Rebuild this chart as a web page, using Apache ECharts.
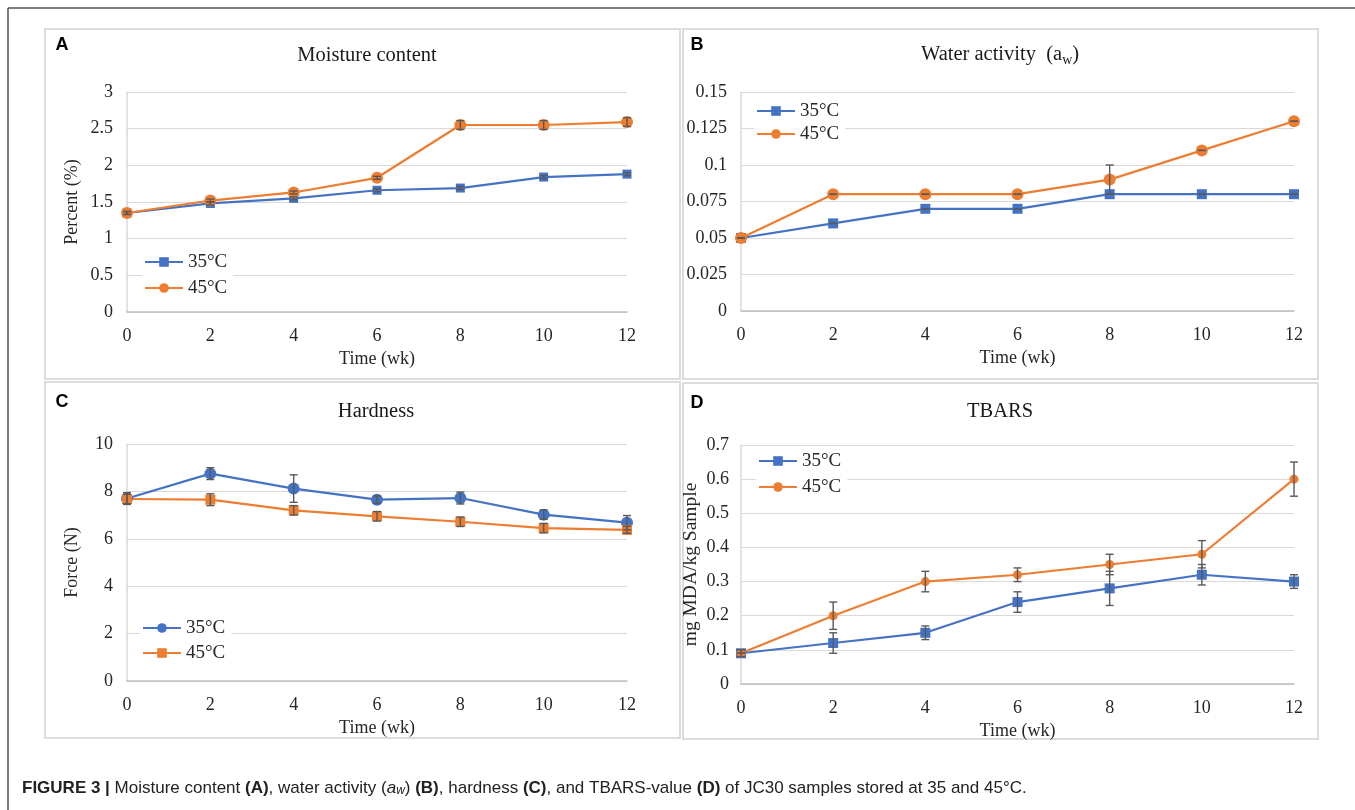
<!DOCTYPE html>
<html>
<head>
<meta charset="utf-8">
<script src="https://cdn.jsdelivr.net/npm/echarts@6/dist/echarts.min.js"></script>
<style>
  html, body { margin: 0; padding: 0; background: #fff; }
  #main { width: 1355px; height: 810px; }
</style>
</head>
<body>
<div id="main"></div>
<script>
// data
const weeks = [0, 2, 4, 6, 8, 10, 12];

const moisture35 = [1.35, 1.48, 1.55, 1.66, 1.69, 1.84, 1.88];
const moisture45 = [1.35, 1.52, 1.63, 1.83, 2.55, 2.55, 2.59];
const moisture35Err = [0.02, 0.02, 0.02, 0.02, 0.02, 0.02, 0.02];
const moisture45Err = [0.02, 0.02, 0.02, 0.02, 0.06, 0.06, 0.06];

const water35 = [0.05, 0.06, 0.07, 0.07, 0.08, 0.08, 0.08];
const water45 = [0.05, 0.08, 0.08, 0.08, 0.09, 0.11, 0.13];
const water35Err = [0, 0, 0, 0, 0, 0, 0];
const water45Err = [0, 0, 0, 0, 0.01, 0, 0];

const hard35 = [7.7, 8.75, 8.12, 7.65, 7.72, 7.02, 6.68];
const hard45 = [7.68, 7.65, 7.2, 6.95, 6.72, 6.45, 6.38];
const hard35Err = [0.25, 0.25, 0.58, 0.15, 0.25, 0.2, 0.3];
const hard45Err = [0.2, 0.25, 0.2, 0.2, 0.2, 0.2, 0.15];

const tbars35 = [0.09, 0.12, 0.15, 0.24, 0.28, 0.32, 0.30];
const tbars45 = [0.09, 0.20, 0.30, 0.32, 0.35, 0.38, 0.60];
const tbars35Err = [0.01, 0.03, 0.02, 0.03, 0.05, 0.03, 0.02];
const tbars45Err = [0, 0.04, 0.03, 0.02, 0.03, 0.04, 0.05];

// [min, max, interval] of each y axis
const yTicks = { A: [0, 3, 0.5], B: [0, 0.15, 0.025], C: [0, 10, 2], D: [0, 0.7, 0.1] };

const BLUE = '#4472c4';
const ORANGE = '#ed7d31';
const SERIF = '"Liberation Serif", "Times New Roman", serif';
const SANS = '"Liberation Sans", Arial, sans-serif';

const myChart = echarts.init(document.getElementById('main'));

const grids = [
  { left: 127, top: 92, width: 500, height: 220 },
  { left: 741, top: 92, width: 553, height: 219 },
  { left: 127, top: 444, width: 500, height: 237 },
  { left: 741, top: 445, width: 553, height: 239 }
];

function xAxis (i) {
  return {
    type: 'value', gridIndex: i, min: 0, max: 12, interval: 2,
    name: 'Time (wk)', nameLocation: 'middle', nameGap: 38,
    nameTextStyle: { fontFamily: SERIF, fontSize: 18, color: '#262626' },
    axisLine: { lineStyle: { color: '#bfbfbf', width: 1.5 } },
    axisTick: { show: false },
    splitLine: { show: false },
    axisLabel: { fontFamily: SERIF, fontSize: 18, color: '#262626', margin: 15 }
  };
}

function yAxis (i, ticks, name, gap, size, margin) {
  return {
    type: 'value', gridIndex: i, min: ticks[0], max: ticks[1], interval: ticks[2],
    name: name, nameLocation: 'middle', nameGap: gap, nameMoveOverlap: false,
    nameTextStyle: { fontFamily: SERIF, fontSize: size, color: '#262626' },
    axisLine: { show: true, lineStyle: { color: '#d9d9d9', width: 1.5 } },
    axisTick: { show: false },
    splitLine: { lineStyle: { color: '#d9d9d9', width: 1 } },
    axisLabel: { fontFamily: SERIF, fontSize: 18, color: '#262626', margin: margin }
  };
}

function lineSeries (name, i, values, color, symbol, size) {
  return {
    name: name, type: 'line', xAxisIndex: i, yAxisIndex: i, z: 3,
    data: weeks.map((w, k) => [w, values[k]]),
    symbol: symbol, symbolSize: size,
    itemStyle: { color: color },
    lineStyle: { color: color, width: 2.2 }
  };
}

// vertical error bars with small caps
function errSeries (i, values, errs) {
  return {
    type: 'custom', xAxisIndex: i, yAxisIndex: i, z: 5, silent: true,
    encode: { x: 0, y: [1, 2] },
    data: weeks.map((w, k) => [w, values[k] - errs[k], values[k] + errs[k]]),
    renderItem (params, api) {
      const x = api.value(0);
      const lo = api.coord([x, api.value(1)]);
      const hi = api.coord([x, api.value(2)]);
      const st = { stroke: '#595959', lineWidth: 1.4 };
      const h = 4;
      return {
        type: 'group',
        children: [
          { type: 'line', shape: { x1: lo[0], y1: lo[1], x2: hi[0], y2: hi[1] }, style: st },
          { type: 'line', shape: { x1: hi[0] - h, y1: hi[1], x2: hi[0] + h, y2: hi[1] }, style: st },
          { type: 'line', shape: { x1: lo[0] - h, y1: lo[1], x2: lo[0] + h, y2: lo[1] }, style: st }
        ]
      };
    }
  };
}

function legend (names, left, top, gap) {
  return {
    data: names, left: left, top: top, orient: 'vertical',
    itemWidth: 38, itemHeight: 12, itemGap: gap, padding: [2, 6, 2, 2],
    backgroundColor: '#fff', selectedMode: false,
    formatter: (n) => n.slice(1) + '°C',
    textStyle: { fontFamily: SERIF, fontSize: 19, color: '#262626', lineHeight: 20 }
  };
}

function label (text, x, y) {
  return { type: 'text', x: x, y: y, style: { text: text, font: 'bold 18px ' + SANS, fill: '#000', align: 'center', verticalAlign: 'middle' } };
}

function heading (text, x, y, rich) {
  return { type: 'text', x: x, y: y, style: { text: text, rich: rich, font: '20.5px ' + SERIF, fill: '#1a1a1a', align: 'center', verticalAlign: 'middle' } };
}

function box (x, y, w, h) {
  return { type: 'rect', shape: { x: x, y: y, width: w, height: h }, style: { fill: 'none', stroke: '#dcdcdc', lineWidth: 2 } };
}

myChart.setOption({
  animation: false,
  grid: grids,
  xAxis: [xAxis(0), xAxis(1), xAxis(2), xAxis(3)],
  yAxis: [
    yAxis(0, yTicks.A, 'Percent (%)', 46, 18, 14),
    yAxis(1, yTicks.B, '', 40, 18, 14),
    yAxis(2, yTicks.C, 'Force (N)', 46, 18, 14),
    yAxis(3, yTicks.D, 'mg MDA/kg Sample', 40, 19.5, 12)
  ],
  legend: [
    legend(['A35', 'A45'], 142, 250, 6),
    legend(['B35', 'B45'], 754, 99, 3),
    legend(['C35', 'C45'], 140, 616, 5),
    legend(['D35', 'D45'], 756, 449, 6)
  ],
  series: [
    lineSeries('A35', 0, moisture35, BLUE, 'rect', 9),
    lineSeries('A45', 0, moisture45, ORANGE, 'circle', 12),
    errSeries(0, moisture35, moisture35Err),
    errSeries(0, moisture45, moisture45Err),
    lineSeries('B35', 1, water35, BLUE, 'rect', 10),
    lineSeries('B45', 1, water45, ORANGE, 'circle', 12),
    errSeries(1, water35, water35Err),
    errSeries(1, water45, water45Err),
    lineSeries('C35', 2, hard35, BLUE, 'circle', 12),
    lineSeries('C45', 2, hard45, ORANGE, 'rect', 10),
    errSeries(2, hard35, hard35Err),
    errSeries(2, hard45, hard45Err),
    lineSeries('D35', 3, tbars35, BLUE, 'rect', 10),
    lineSeries('D45', 3, tbars45, ORANGE, 'circle', 9),
    errSeries(3, tbars35, tbars35Err),
    errSeries(3, tbars45, tbars45Err)
  ],
  graphic: [
    { type: 'line', shape: { x1: 8, y1: 8, x2: 1355, y2: 8 }, style: { stroke: '#555', lineWidth: 1.5 } },
    { type: 'line', shape: { x1: 8, y1: 8, x2: 8, y2: 810 }, style: { stroke: '#555', lineWidth: 1.5 } },
    box(45, 29, 635, 350),
    box(683, 29, 635, 350),
    box(45, 382, 635, 356),
    box(683, 383, 635, 356),
    label('A', 62, 45),
    label('B', 697, 45),
    label('C', 62, 402),
    label('D', 697, 403),
    heading('Moisture content', 367, 56),
    heading('{t|Water activity  (a}{s|w}{t|)}', 1000, 55, {
      t: { fontFamily: SERIF, fontSize: 20.5, fill: '#1a1a1a', lineHeight: 24 },
      s: { fontFamily: SERIF, fontSize: 14, fill: '#1a1a1a', lineHeight: 24, verticalAlign: 'bottom', padding: [8, 0, 0, 0] }
    }),
    heading('Hardness', 376, 412),
    heading('TBARS', 1000, 412),
    {
      type: 'text', x: 22, y: 788,
      style: {
        text: '{b|FIGURE 3 |} Moisture content {b|(A)}, water activity ({i|a}{s|w}) {b|(B)}, hardness {b|(C)}, and TBARS-value {b|(D)} of JC30 samples stored at 35 and 45°C.',
        font: '17px ' + SANS, fill: '#222', verticalAlign: 'middle',
        rich: {
          b: { fontFamily: SANS, fontSize: 17, fontWeight: 'bold', fill: '#222' },
          i: { fontFamily: SANS, fontSize: 17, fontStyle: 'italic', fill: '#222' },
          s: { fontFamily: SANS, fontSize: 12, fontStyle: 'italic', fill: '#222', verticalAlign: 'bottom', padding: [6, 0, 0, 0] }
        }
      }
    }
  ]
});
</script>
</body>
</html>
